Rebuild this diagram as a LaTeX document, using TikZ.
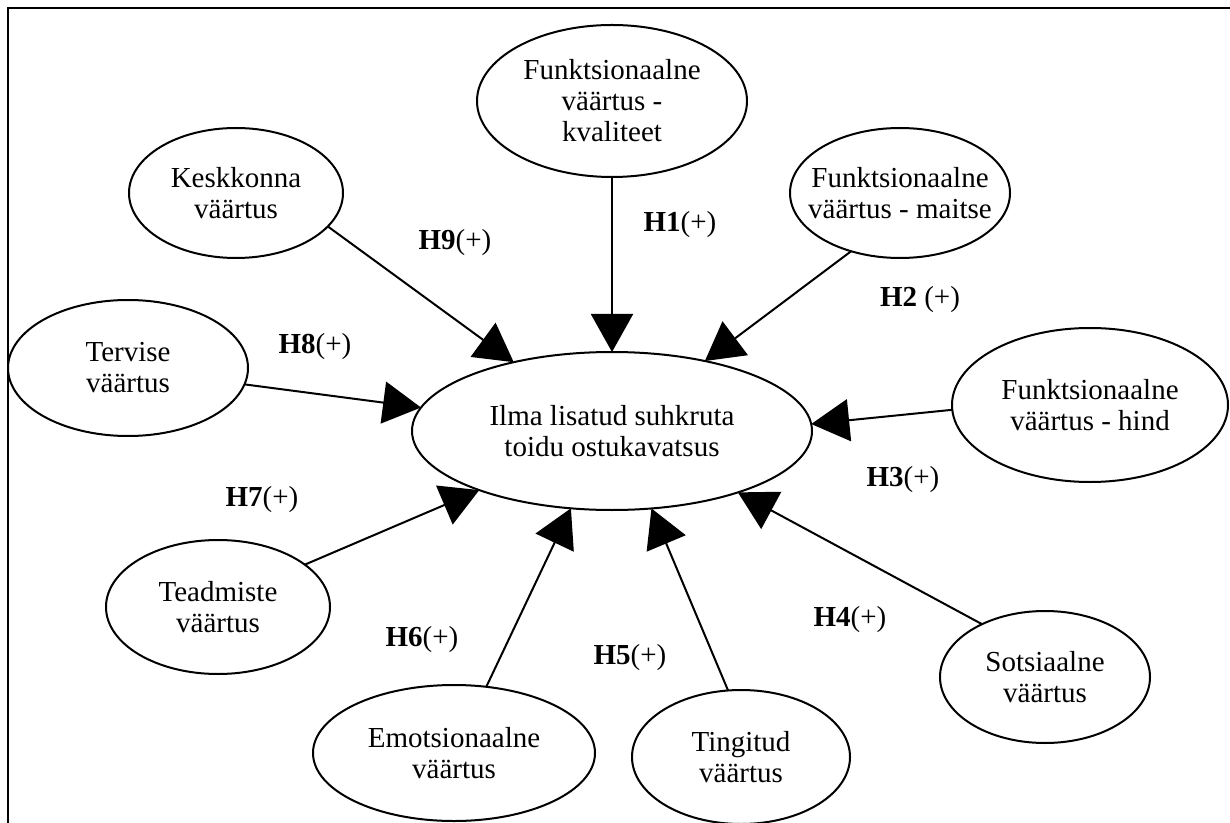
\documentclass[tikz,border=0pt]{standalone}
\usepackage{fontspec}
\setmainfont{Liberation Serif}
\usetikzlibrary{shapes.geometric,arrows.meta}
\begin{document}
\begin{tikzpicture}[x=0.5pt,y=-0.5pt,
  ell/.style={ellipse,draw,line width=1pt,inner sep=0pt,outer sep=0pt,align=center,font=\fontsize{14.5}{15.5}\selectfont},
  lab/.style={font=\fontsize{14.5}{15.5}\selectfont,inner sep=0pt},
  arr/.style={-{Triangle[length=19pt,width=21pt]},line width=1pt}]
\useasboundingbox (0,0) rectangle (1230,823);
\coordinate (tl) at (8,8);
\coordinate (tr) at (1230,8);
\coordinate (bl) at (8,823);
\draw[line width=1pt] (tr) -- (tl) -- (bl);

\node[ell,minimum width=200pt,minimum height=79pt] (C) at (612,431) {Ilma lisatud suhkruta\\toidu ostukavatsus};
\node[ell,minimum width=135pt,minimum height=76pt] (kval) at (612,101) {Funktsionaalne\\väärtus -\\kvaliteet};
\node[ell,minimum width=107pt,minimum height=65pt] (kesk) at (236,193) {Keskkonna\\väärtus};
\node[ell,minimum width=110pt,minimum height=65pt,inner xsep=-12pt] (mait) at (900,193) {Funktsionaalne\\väärtus - maitse};
\node[ell,minimum width=120pt,minimum height=68pt] (terv) at (128,368) {Tervise\\väärtus};
\node[ell,minimum width=138pt,minimum height=77pt] (hind) at (1090,405) {Funktsionaalne\\väärtus - hind};
\node[ell,minimum width=112pt,minimum height=67pt] (tead) at (218,607) {Teadmiste\\väärtus};
\node[ell,minimum width=141pt,minimum height=68pt] (emot) at (454,753) {Emotsionaalne\\väärtus};
\node[ell,minimum width=109pt,minimum height=67pt] (ting) at (741,757) {Tingitud\\väärtus};
\node[ell,minimum width=105pt,minimum height=66pt] (sots) at (1045,677) {Sotsiaalne\\väärtus};

\draw[arr] (kval.270) -- (C.90);
\draw[arr] (mait.230) -- (C.37.5);
\draw[arr] (kesk.-20) -- (C.145);
\draw[arr] (terv.352) -- (C.173);
\draw[arr] (hind.182) -- (C.2);
\draw[arr] (tead.26) -- (C.204);
\draw[arr] (emot.64) -- (C.242);
\draw[arr] (ting.101) -- (C.297.5);
\draw[arr] (sots.140) -- (C.334.5);

\node[lab] (l1) at (680,225) {\textbf{H1}(+)};
\node[lab] (l2) at (920,300) {\textbf{H2} (+)};
\node[lab] (l3) at (903,480) {\textbf{H3}(+)};
\node[lab] (l4) at (850,620) {\textbf{H4}(+)};
\node[lab] (l5) at (630,658) {\textbf{H5}(+)};
\node[lab] (l6) at (422,640) {\textbf{H6}(+)};
\node[lab] (l7) at (262,500) {\textbf{H7}(+)};
\node[lab] (l8) at (315,347) {\textbf{H8}(+)};
\node[lab] (l9) at (455,243) {\textbf{H9}(+)};
\end{tikzpicture}
\end{document}
